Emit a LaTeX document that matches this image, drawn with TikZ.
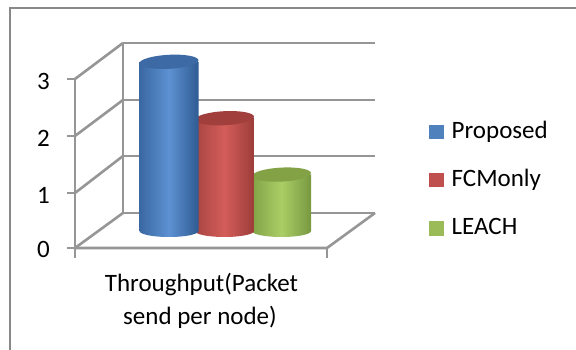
\documentclass[tikz,border=0pt]{standalone}
\usepackage{fontspec}
\setmainfont{Carlito}
\definecolor{gridgray}{HTML}{969696}
\definecolor{framegray}{HTML}{888888}
\definecolor{bL}{HTML}{3A68A3}
\definecolor{bM}{HTML}{5D91D2}
\definecolor{bR}{HTML}{2F5B92}
\definecolor{bT}{HTML}{3D6AA4}
\definecolor{rL}{HTML}{A84542}
\definecolor{rM}{HTML}{D45D5A}
\definecolor{rR}{HTML}{9B3D3A}
\definecolor{rT}{HTML}{A13F3C}
\definecolor{gL}{HTML}{83A347}
\definecolor{gM}{HTML}{ABCE66}
\definecolor{gR}{HTML}{789840}
\definecolor{gT}{HTML}{82A245}
\definecolor{sB}{HTML}{4F81BD}
\definecolor{sR}{HTML}{C0504D}
\definecolor{sG}{HTML}{9BBB59}
\newcommand{\mycyl}[6]{%
  \shade[left color=#3, right color=#5, middle color=#4]
    (#1-29.5,#2) -- (#1-29.5,119) arc[start angle=180, end angle=360, x radius=29.5, y radius=6] -- (#1+29.5,#2) -- cycle;
  \fill[#6, rotate around={3:(#1,#2)}] (#1,#2) ellipse [x radius=29.5, y radius=7];
}
\begin{document}
\begin{tikzpicture}[x=1pt,y=1pt,
  grid/.style={draw=gridgray, line width=2.6pt},
  frame/.style={draw=framegray, line width=2.5pt},
  lbl/.style={font=\fontsize{25}{30}\selectfont, inner sep=0pt},
  swatch/.style={minimum width=14.5pt, minimum height=14.5pt, inner sep=0pt}]
\useasboundingbox (0,0) rectangle (576,350);
\fill[white] (0,0) rectangle (576,350);
% outer frame
\draw[frame] (10,0) -- (10,342) -- (576,342);
% coordinates
\coordinate (f0) at (75,102);
\coordinate (f1) at (75,157);
\coordinate (f2) at (75,214);
\coordinate (f3) at (75,271);
\coordinate (b0) at (123,137);
\coordinate (b1) at (123,194);
\coordinate (b2) at (123,250);
\coordinate (b3) at (123,307);
\coordinate (e0) at (375,137);
\coordinate (e1) at (375,194);
\coordinate (e2) at (375,250);
\coordinate (e3) at (375,307);
\coordinate (fr) at (327,102);
\coordinate (frt) at (327,92);
\coordinate (f0t) at (75,92);
% back wall
\foreach \i in {0,1,2,3} {
  \draw[grid] (b\i) -- (e\i);
  \draw[grid] (f\i) -- (b\i);
  \draw[grid] (f\i) -- ++(-8,0);
}
\draw[grid] (b0) -- (b3);
\draw[grid] (f0t) -- (f3);
\draw[grid] (f0) -- (fr) -- (e0);
\draw[grid] (fr) -- (frt);
% cylinders
\mycyl{281.5}{175.4}{gL}{gM}{gR}{gT}
\mycyl{224.5}{231.8}{rL}{rM}{rR}{rT}
\mycyl{169}{288.2}{bL}{bM}{bR}{bT}
% axis labels
\node[lbl, anchor=base east] (l3) at (50,260) {3};
\node[lbl, anchor=base east] (l2) at (50,203) {2};
\node[lbl, anchor=base east] (l1) at (50,146) {1};
\node[lbl, anchor=base east] (l0) at (50,92) {0};
% category label
\node[lbl, anchor=base] (t1) at (201.5,58.3) {Throughput(Packet};
\node[lbl, anchor=base] (t2) at (200,25) {send per node)};
% legend
\node[swatch, fill=sB] (s1) at (436.5,218) {};
\node[swatch, fill=sR] (s2) at (436.5,170) {};
\node[swatch, fill=sG] (s3) at (436.5,121.5) {};
\node[lbl, anchor=base west] (n1) at (451.5,211.7) {Proposed};
\node[lbl, anchor=base west] (n2) at (451.5,163.7) {FCMonly};
\node[lbl, anchor=base west] (n3) at (451.5,115.2) {LEACH};
\end{tikzpicture}
\end{document}
